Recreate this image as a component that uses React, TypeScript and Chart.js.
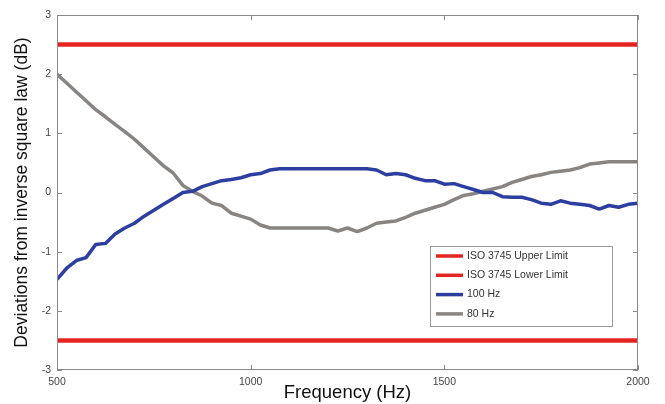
import React, { useEffect, useRef } from "react";
import { Chart, registerables } from "chart.js";

Chart.register(...registerables);

const frequencies = [
  500, 525, 550, 575, 600, 625, 650, 675, 700, 725, 750, 775, 800, 825, 850, 875, 900, 925, 950, 975,
  1000, 1025, 1050, 1075, 1100, 1125, 1150, 1175, 1200, 1225, 1250, 1275, 1300, 1325, 1350, 1375, 1400,
  1425, 1450, 1475, 1500, 1525, 1550, 1575, 1600, 1625, 1650, 1675, 1700, 1725, 1750, 1775, 1800, 1825,
  1850, 1875, 1900, 1925, 1950, 1975, 2000,
];

const hz100 = [
  -1.47, -1.28, -1.15, -1.1, -0.88, -0.86, -0.7, -0.6, -0.52, -0.4, -0.3, -0.2, -0.1, 0.0, 0.02, 0.1,
  0.15, 0.2, 0.22, 0.25, 0.3, 0.32, 0.38, 0.4, 0.4, 0.4, 0.4, 0.4, 0.4, 0.4, 0.4, 0.4, 0.4, 0.38, 0.3,
  0.32, 0.3, 0.24, 0.2, 0.2, 0.14, 0.15, 0.1, 0.05, 0.0, 0.0, -0.07, -0.08, -0.08, -0.12, -0.18, -0.2,
  -0.14, -0.18, -0.2, -0.22, -0.28, -0.22, -0.25, -0.2, -0.18,
];

const hz80 = [
  2.0, 1.85, 1.7, 1.55, 1.4, 1.28, 1.15, 1.03, 0.9, 0.75, 0.6, 0.45, 0.33, 0.12, 0.02, -0.06, -0.18,
  -0.22, -0.35, -0.4, -0.45, -0.55, -0.6, -0.6, -0.6, -0.6, -0.6, -0.6, -0.6, -0.65, -0.6, -0.66, -0.6,
  -0.52, -0.5, -0.48, -0.42, -0.35, -0.3, -0.25, -0.2, -0.12, -0.05, -0.02, 0.02, 0.06, 0.1, 0.17, 0.22,
  0.27, 0.3, 0.34, 0.36, 0.38, 0.42, 0.48, 0.5, 0.52, 0.52, 0.52, 0.52,
];

const upperLimit = 2.5;
const lowerLimit = -2.5;
const xRange = [500, 2000];
const xTicks = [500, 1000, 1500, 2000];
const yTicks = [-3, -2, -1, 0, 1, 2, 3];
const seriesLabels = ["ISO 3745 Upper Limit", "ISO 3745 Lower Limit", "100 Hz", "80 Hz"];
const seriesColors = ["#e52421", "#e52421", "#2c3e9f", "#878482"];

const FONT = "'Liberation Sans', Arial, sans-serif";

const framePlugin = {
  id: "frame",
  afterDatasetsDraw(chart: any) {
    const { ctx, chartArea: a, scales } = chart;
    ctx.save();
    ctx.strokeStyle = "#8a8a8a";
    ctx.lineWidth = 1;
    ctx.strokeRect(a.left + 0.5, a.top + 0.5, a.right - a.left - 1, a.bottom - a.top - 1);
    const t = 5;
    ctx.beginPath();
    xTicks.forEach((v) => {
      const x = Math.round(scales.x.getPixelForValue(v)) + 0.5;
      ctx.moveTo(x, a.bottom);
      ctx.lineTo(x, a.bottom - t);
      ctx.moveTo(x, a.top);
      ctx.lineTo(x, a.top + t);
    });
    yTicks.forEach((v) => {
      const y = Math.round(scales.y.getPixelForValue(v)) + 0.5;
      ctx.moveTo(a.left, y);
      ctx.lineTo(a.left + t, y);
      ctx.moveTo(a.right, y);
      ctx.lineTo(a.right - t, y);
    });
    ctx.stroke();

    // legend box
    const bx = 430, by = 246, bw = 182, bh = 80;
    ctx.fillStyle = "#ffffff";
    ctx.fillRect(bx, by, bw, bh);
    ctx.strokeStyle = "#9a9a9a";
    ctx.strokeRect(bx + 0.5, by + 0.5, bw, bh);
    ctx.font = `10.5px ${FONT}`;
    ctx.textBaseline = "middle";
    ctx.textAlign = "left";
    seriesLabels.forEach((lab, i) => {
      const y = by + 10 + i * 19.3;
      ctx.strokeStyle = seriesColors[i];
      ctx.lineWidth = 3.5;
      ctx.beginPath();
      ctx.moveTo(bx + 6, y);
      ctx.lineTo(bx + 33, y);
      ctx.stroke();
      ctx.fillStyle = "#333333";
      ctx.fillText(lab, bx + 37, y);
    });
    ctx.restore();
  },
};

export default function App() {
  const ref = useRef<HTMLCanvasElement | null>(null);

  useEffect(() => {
    if (!ref.current) return;
    const pts = (vals: number[]) => frequencies.map((f, i) => ({ x: f, y: vals[i] }));
    const flat = (v: number) => xRange.map((f) => ({ x: f, y: v }));
    const chart = new Chart(ref.current, {
      type: "line",
      data: {
        datasets: [
          { label: seriesLabels[0], data: flat(upperLimit), borderColor: seriesColors[0], borderWidth: 4.5 },
          { label: seriesLabels[1], data: flat(lowerLimit), borderColor: seriesColors[1], borderWidth: 4.5 },
          { label: seriesLabels[2], data: pts(hz100), borderColor: seriesColors[2], borderWidth: 3.5 },
          { label: seriesLabels[3], data: pts(hz80), borderColor: seriesColors[3], borderWidth: 3.5 },
        ].map((d) => ({ ...d, pointRadius: 0, fill: false, tension: 0, borderJoinStyle: "round" as const })),
      },
      options: {
        animation: false,
        responsive: false,
        layout: { padding: { top: 15, right: 27, left: 0, bottom: 0 } },
        plugins: { legend: { display: false }, tooltip: { enabled: false } },
        scales: {
          x: {
            type: "linear",
            min: xRange[0],
            max: xRange[1],
            afterBuildTicks: (s: any) => {
              s.ticks = xTicks.map((v) => ({ value: v }));
            },
            afterFit: (s: any) => {
              s.height = 34;
            },
            grid: { display: false, drawTicks: false },
            border: { display: false },
            ticks: {
              padding: 6,
              autoSkip: false,
              maxRotation: 0,
              color: "#444",
              font: { family: FONT, size: 10.5 },
              callback: (v: any) => String(v),
            },
            title: {
              display: true,
              text: "Frequency (Hz)",
              color: "#111",
              font: { family: FONT, size: 18.5 },
              padding: { top: 0, bottom: 0 },
            },
          },
          y: {
            min: -3,
            max: 3,
            afterBuildTicks: (s: any) => {
              s.ticks = yTicks.map((v) => ({ value: v }));
            },
            afterFit: (s: any) => {
              s.width = 57;
            },
            grid: { display: false, drawTicks: false },
            border: { display: false },
            ticks: { padding: 6, color: "#444", font: { family: FONT, size: 10.5 }, callback: (v: any) => String(v) },
            title: {
              display: true,
              text: "Deviations from inverse square law (dB)",
              color: "#111",
              font: { family: FONT, size: 17.5 },
              padding: { top: 12, bottom: 0 },
            },
          },
        },
      },
      plugins: [framePlugin],
    });
    return () => chart.destroy();
  }, []);

  return (
    <div style={{ position: "fixed", left: 0, top: 0, width: 665, height: 404, background: "#fff" }}>
      <canvas ref={ref} width={665} height={404} />
    </div>
  );
}
